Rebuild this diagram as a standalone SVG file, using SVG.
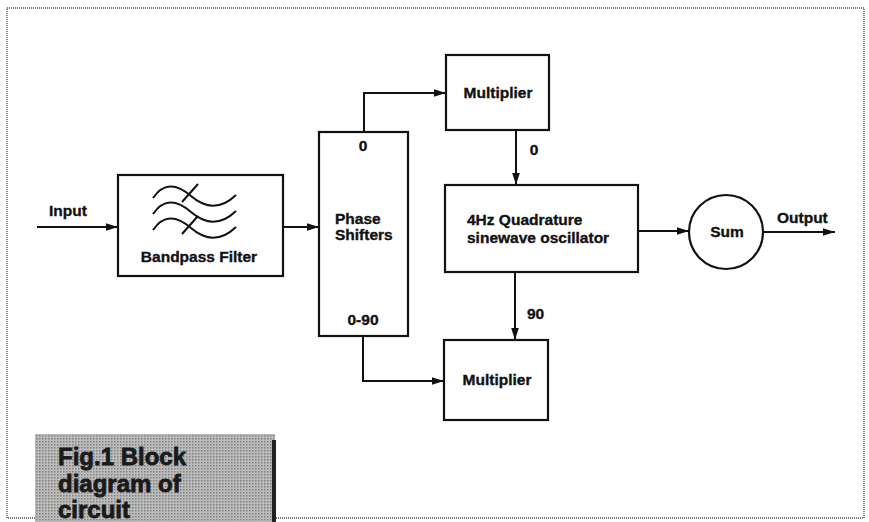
<svg xmlns="http://www.w3.org/2000/svg" width="869" height="522" viewBox="0 0 869 522">
<style>
.box{fill:#fff;stroke:#111;stroke-width:2.2}
.lbl{font-family:"Liberation Sans",Arial,sans-serif;font-weight:bold;font-size:15.5px;fill:#111;stroke:#111;stroke-width:0.35}
.mid{text-anchor:middle}
.wire{fill:none;stroke:#111;stroke-width:2}
.wave{fill:none;stroke:#111;stroke-width:2}
.frame{fill:none;stroke:#7a7a7a;stroke-width:1.8;stroke-dasharray:1 1}
.cap{font-family:"Liberation Sans",Arial,sans-serif;font-weight:bold;font-size:24px;fill:#1a1a1a;stroke:#1a1a1a;stroke-width:0.8}
</style>
<defs>
<marker id="arr" markerUnits="userSpaceOnUse" markerWidth="13" markerHeight="10" refX="12" refY="5" orient="auto">
<path d="M0,1.2 L12,5 L0,8.8 Z" fill="#111"/>
</marker>
<pattern id="dots" width="3" height="3" patternUnits="userSpaceOnUse">
<rect width="3" height="3" fill="#bcbcbc"/>
<rect width="1.5" height="1.5" fill="#808080"/>
</pattern>
</defs>
<rect width="869" height="522" fill="#fff"/>
<rect class="frame" x="7" y="8" width="857" height="510"/>

<g id="connectors">
<path class="wire" d="M37,227 H118" marker-end="url(#arr)"/>
<path class="wire" d="M283,227 H319" marker-end="url(#arr)"/>
<path class="wire" d="M364,132 V93 H446" marker-end="url(#arr)"/>
<path class="wire" d="M516,130 V185" marker-end="url(#arr)"/>
<path class="wire" d="M515,272 V340" marker-end="url(#arr)"/>
<path class="wire" d="M363,336 V381 H444" marker-end="url(#arr)"/>
<path class="wire" d="M638,231 H689" marker-end="url(#arr)"/>
<path class="wire" d="M763,232 H835" marker-end="url(#arr)"/>
<text class="lbl" x="49" y="216">Input</text>
<text class="lbl" x="777" y="223">Output</text>
<text class="lbl mid" x="534" y="155">0</text>
<text class="lbl" x="527" y="319">90</text>
</g>

<g id="bandpass">
<rect class="box" x="118" y="175" width="165" height="101"/>
<path class="wave" d="M153,198 Q168,176 191,196 T236,195"/>
<path class="wave" d="M153,214 Q168,192 191,212 T236,211"/>
<path class="wave" d="M153,230 Q168,208 191,228 T236,227"/>
<path class="wave" d="M182,202 L198,184 M182,234 L198,216"/>
<text class="lbl mid" x="199" y="262">Bandpass Filter</text>
</g>

<g id="phase">
<rect class="box" x="319" y="132" width="89" height="204"/>
<text class="lbl mid" x="363" y="151">0</text>
<text class="lbl" x="335" y="224">Phase</text>
<text class="lbl" x="335" y="240">Shifters</text>
<text class="lbl mid" x="363" y="325">0-90</text>
</g>

<g id="mult1">
<rect class="box" x="446" y="55" width="103" height="75"/>
<text class="lbl mid" x="498" y="98">Multiplier</text>
</g>

<g id="osc">
<rect class="box" x="445" y="185" width="193" height="87"/>
<text class="lbl" x="467" y="225">4Hz Quadrature</text>
<text class="lbl" x="467" y="243">sinewave oscillator</text>
</g>

<g id="mult2">
<rect class="box" x="444" y="340" width="104" height="80"/>
<text class="lbl mid" x="497" y="385">Multiplier</text>
</g>

<g id="sum">
<circle class="box" cx="726" cy="232" r="37"/>
<text class="lbl mid" x="727" y="237">Sum</text>
</g>

<g id="caption">
<rect x="35" y="434" width="240" height="88" fill="url(#dots)"/>
<rect x="272" y="440" width="4" height="82" fill="#222"/>
<text class="cap" x="58" y="465">Fig.1 Block</text>
<text class="cap" x="58" y="492">diagram of</text>
<text class="cap" x="58" y="518">circuit</text>
</g>
</svg>
